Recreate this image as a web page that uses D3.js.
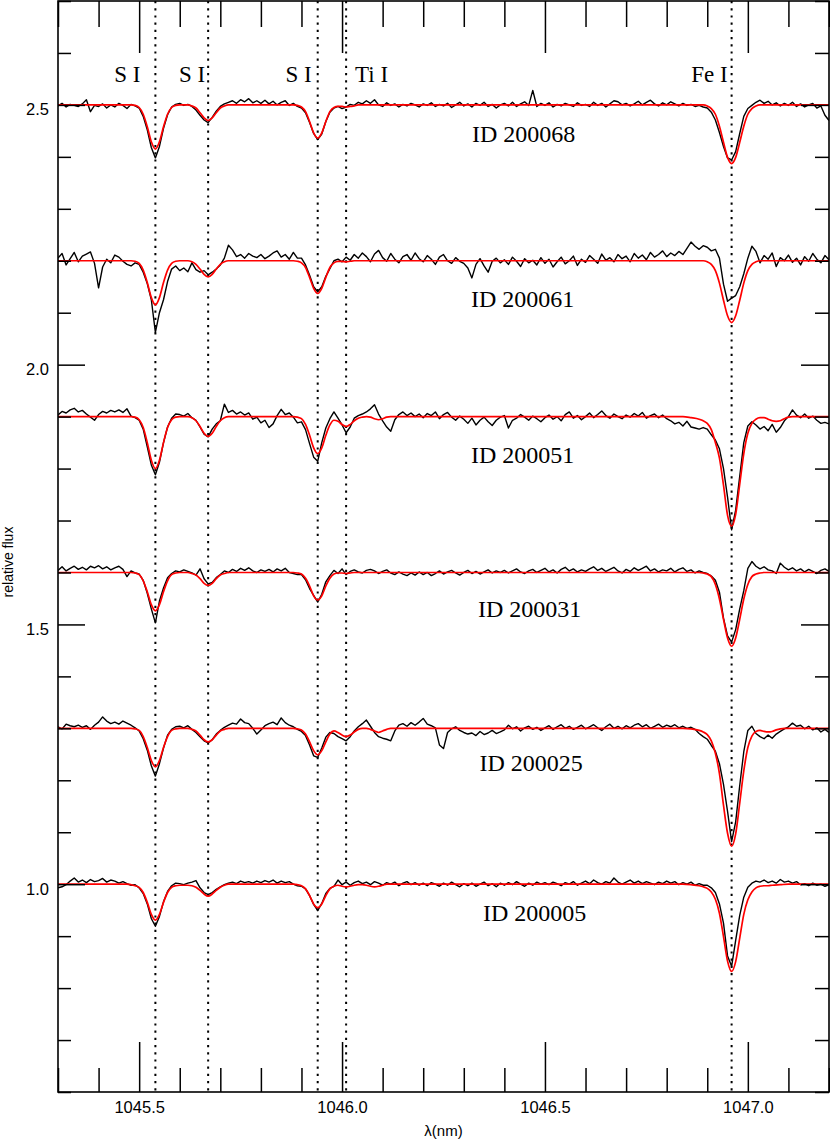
<!DOCTYPE html>
<html><head><meta charset="utf-8">
<script src="https://cdn.jsdelivr.net/npm/d3@7"></script>
<style>body{margin:0;background:#fff}</style>
</head><body><svg id="c" width="830" height="1141"></svg>
<script>
// ---------- data ----------
const waveStart = 1045.30, waveStep = 0.01, waveCount = 191; // sampling grid of the observed spectra (nm)

const spectrumIds = ["ID 200068", "ID 200061", "ID 200051", "ID 200031", "ID 200025", "ID 200005"];
const continuumLevels = [2.5, 2.2, 1.9, 1.6, 1.3, 1.0];

const lineWaves = [1045.54, 1045.67, 1045.94, 1046.01, 1046.96];
const lineNames = ["S I", "S I", "S I", "Ti I", "Fe I"];

const xMajorTicks = [1045.5, 1046.0, 1046.5, 1047.0];
const yMajorTicks = [1.0, 1.5, 2.0, 2.5];

const obs200068 = [
2.498,2.503,2.496,2.501,2.499,2.497,2.502,2.510,2.487,2.499,
2.497,2.502,2.494,2.500,2.496,2.503,2.499,2.493,2.501,2.498,
2.494,2.478,2.452,2.418,2.398,2.420,2.455,2.481,2.496,2.501,
2.503,2.499,2.501,2.497,2.490,2.480,2.471,2.466,2.476,2.488,
2.497,2.502,2.505,2.508,2.503,2.510,2.506,2.512,2.504,2.508,
2.503,2.509,2.502,2.507,2.500,2.505,2.508,2.499,2.503,2.497,
2.494,2.485,2.466,2.445,2.433,2.444,2.468,2.486,2.494,2.497,
2.493,2.496,2.501,2.499,2.505,2.502,2.508,2.503,2.510,2.500,
2.497,2.504,2.499,2.502,2.496,2.501,2.498,2.503,2.500,2.496,
2.502,2.499,2.504,2.497,2.501,2.498,2.503,2.495,2.500,2.505,
2.498,2.502,2.496,2.503,2.499,2.505,2.497,2.501,2.494,2.500,
2.503,2.498,2.505,2.497,2.502,2.506,2.499,2.528,2.497,2.503,
2.499,2.504,2.496,2.501,2.498,2.503,2.500,2.497,2.504,2.499,
2.501,2.497,2.505,2.499,2.503,2.496,2.502,2.508,2.506,2.500,
2.503,2.498,2.502,2.507,2.500,2.505,2.509,2.502,2.498,2.504,
2.500,2.506,2.502,2.498,2.503,2.499,2.501,2.497,2.499,2.496,
2.494,2.486,2.471,2.447,2.420,2.398,2.394,2.410,2.445,2.478,
2.493,2.499,2.505,2.509,2.503,2.507,2.500,2.504,2.498,2.503,
2.499,2.505,2.497,2.502,2.496,2.500,2.503,2.494,2.498,2.480,
2.470];

const obs200061 = [
2.205,2.214,2.192,2.204,2.216,2.198,2.209,2.213,2.217,2.195,
2.148,2.188,2.203,2.196,2.211,2.207,2.199,2.193,2.190,2.196,
2.193,2.178,2.156,2.125,2.062,2.100,2.125,2.160,2.184,2.190,
2.181,2.186,2.179,2.196,2.183,2.178,2.181,2.173,2.178,2.184,
2.192,2.205,2.230,2.221,2.208,2.212,2.205,2.214,2.209,2.206,
2.212,2.204,2.209,2.215,2.219,2.207,2.212,2.203,2.216,2.205,
2.205,2.192,2.172,2.150,2.140,2.150,2.170,2.185,2.200,2.203,
2.198,2.207,2.201,2.212,2.205,2.215,2.208,2.198,2.213,2.220,
2.206,2.199,2.214,2.203,2.196,2.208,2.212,2.201,2.215,2.204,
2.198,2.210,2.203,2.193,2.207,2.212,2.200,2.195,2.206,2.199,
2.195,2.186,2.167,2.193,2.204,2.190,2.178,2.199,2.205,2.196,
2.202,2.193,2.207,2.199,2.189,2.204,2.196,2.201,2.192,2.206,
2.195,2.203,2.188,2.198,2.207,2.194,2.200,2.209,2.191,2.203,
2.197,2.210,2.203,2.195,2.213,2.201,2.206,2.198,2.212,2.204,
2.209,2.198,2.214,2.205,2.211,2.202,2.216,2.207,2.212,2.219,
2.208,2.215,2.210,2.218,2.212,2.224,2.236,2.228,2.222,2.229,
2.226,2.219,2.222,2.205,2.155,2.122,2.128,2.133,2.150,2.175,
2.205,2.228,2.218,2.196,2.210,2.203,2.215,2.189,2.206,2.200,
2.211,2.197,2.205,2.192,2.208,2.199,2.214,2.203,2.196,2.210,
2.202];

const obs200051 = [
1.903,1.910,1.907,1.913,1.916,1.909,1.912,1.905,1.899,1.893,
1.904,1.910,1.907,1.912,1.909,1.913,1.908,1.915,1.901,1.898,
1.893,1.876,1.842,1.807,1.788,1.812,1.850,1.880,1.897,1.905,
1.904,1.901,1.906,1.898,1.893,1.880,1.866,1.861,1.876,1.886,
1.892,1.924,1.908,1.912,1.905,1.909,1.903,1.907,1.895,1.899,
1.888,1.893,1.879,1.886,1.902,1.914,1.904,1.907,1.899,1.888,
1.890,1.875,1.848,1.822,1.814,1.850,1.878,1.896,1.909,1.897,
1.884,1.869,1.880,1.897,1.902,1.905,1.909,1.915,1.923,1.905,
1.892,1.880,1.872,1.894,1.904,1.909,1.902,1.907,1.900,1.905,
1.898,1.906,1.902,1.909,1.896,1.904,1.908,1.899,1.893,1.901,
1.895,1.887,1.897,1.884,1.893,1.899,1.890,1.883,1.893,1.899,
1.902,1.878,1.893,1.897,1.904,1.899,1.893,1.901,1.896,1.890,
1.898,1.903,1.895,1.900,1.892,1.904,1.909,1.897,1.902,1.894,
1.900,1.907,1.898,1.904,1.911,1.902,1.897,1.905,1.900,1.896,
1.903,1.899,1.906,1.901,1.908,1.897,1.902,1.905,1.898,1.903,
1.896,1.892,1.886,1.889,1.882,1.891,1.880,1.878,1.876,1.879,
1.876,1.865,1.855,1.838,1.800,1.745,1.682,1.720,1.785,1.850,
1.882,1.890,1.884,1.876,1.881,1.873,1.885,1.870,1.879,1.892,
1.900,1.913,1.903,1.898,1.905,1.897,1.901,1.893,1.887,1.889,
1.886];

const obs200031 = [
1.604,1.611,1.603,1.608,1.612,1.606,1.610,1.605,1.612,1.609,
1.613,1.607,1.611,1.605,1.609,1.612,1.606,1.592,1.603,1.599,
1.597,1.585,1.560,1.530,1.503,1.545,1.570,1.590,1.598,1.603,
1.601,1.605,1.602,1.599,1.595,1.607,1.588,1.578,1.581,1.590,
1.596,1.603,1.600,1.606,1.602,1.608,1.604,1.609,1.603,1.600,
1.605,1.602,1.606,1.601,1.607,1.603,1.608,1.600,1.598,1.596,
1.596,1.586,1.569,1.556,1.543,1.558,1.582,1.594,1.604,1.598,
1.607,1.596,1.602,1.605,1.601,1.599,1.604,1.606,1.603,1.598,
1.602,1.605,1.599,1.596,1.601,1.597,1.594,1.599,1.595,1.601,
1.596,1.600,1.594,1.598,1.603,1.597,1.601,1.604,1.599,1.595,
1.600,1.604,1.598,1.602,1.597,1.601,1.605,1.599,1.603,1.600,
1.604,1.599,1.603,1.607,1.601,1.598,1.603,1.606,1.600,1.604,
1.608,1.601,1.605,1.599,1.606,1.610,1.603,1.607,1.601,1.605,
1.602,1.607,1.611,1.604,1.608,1.602,1.606,1.610,1.603,1.599,
1.606,1.602,1.609,1.604,1.608,1.612,1.603,1.607,1.601,1.605,
1.603,1.608,1.601,1.606,1.609,1.602,1.605,1.599,1.603,1.600,
1.598,1.593,1.585,1.562,1.512,1.478,1.466,1.490,1.530,1.565,
1.608,1.621,1.612,1.607,1.611,1.605,1.603,1.598,1.618,1.610,
1.605,1.609,1.603,1.607,1.601,1.606,1.602,1.598,1.604,1.607,
1.602];

const obs200025 = [
1.303,1.299,1.308,1.305,1.303,1.306,1.302,1.305,1.298,1.306,
1.312,1.322,1.314,1.309,1.312,1.308,1.314,1.310,1.306,1.301,
1.295,1.280,1.258,1.228,1.208,1.232,1.262,1.287,1.298,1.303,
1.304,1.301,1.305,1.298,1.292,1.284,1.276,1.272,1.278,1.289,
1.296,1.302,1.306,1.310,1.308,1.318,1.311,1.309,1.300,1.289,
1.297,1.305,1.309,1.312,1.307,1.320,1.311,1.306,1.303,1.298,
1.294,1.286,1.268,1.247,1.244,1.262,1.283,1.292,1.290,1.284,
1.280,1.276,1.284,1.295,1.303,1.309,1.316,1.304,1.292,1.284,
1.281,1.279,1.276,1.295,1.306,1.309,1.304,1.311,1.306,1.312,
1.319,1.308,1.305,1.301,1.268,1.261,1.292,1.299,1.303,1.296,
1.292,1.289,1.291,1.286,1.294,1.288,1.291,1.296,1.290,1.293,
1.297,1.306,1.299,1.303,1.295,1.301,1.304,1.298,1.302,1.296,
1.301,1.305,1.298,1.303,1.307,1.300,1.304,1.298,1.302,1.306,
1.299,1.303,1.307,1.301,1.296,1.303,1.308,1.300,1.304,1.299,
1.305,1.301,1.306,1.309,1.303,1.307,1.300,1.304,1.308,1.302,
1.306,1.303,1.307,1.301,1.304,1.300,1.302,1.298,1.290,1.284,
1.279,1.267,1.256,1.232,1.192,1.140,1.082,1.120,1.190,1.255,
1.296,1.304,1.290,1.284,1.280,1.287,1.281,1.289,1.294,1.299,
1.303,1.310,1.304,1.306,1.299,1.304,1.297,1.301,1.293,1.298,
1.292];

const obs200005 = [
0.993,0.995,0.999,1.006,1.012,1.004,1.008,1.003,1.009,1.005,
1.007,1.011,1.004,1.008,1.006,1.002,1.005,1.001,0.998,0.999,
0.993,0.982,0.962,0.934,0.919,0.938,0.966,0.986,0.997,1.002,
1.001,0.999,1.002,1.004,1.007,0.993,0.984,0.980,0.984,0.990,
0.995,0.999,1.002,1.004,1.001,1.006,1.003,1.005,1.002,1.006,
1.003,1.007,1.004,1.008,1.002,1.006,1.003,1.005,1.000,0.997,
0.996,0.991,0.978,0.961,0.949,0.963,0.982,0.992,0.996,1.008,
0.999,1.004,0.998,1.003,1.006,1.001,1.004,0.999,1.005,1.002,
0.998,1.003,1.000,1.004,0.997,1.002,1.005,0.999,1.003,0.998,
1.002,0.997,1.003,1.000,0.996,1.002,0.998,1.004,0.999,0.995,
1.001,0.997,1.002,0.996,1.000,1.004,0.997,1.001,0.995,1.002,
0.998,1.003,0.999,1.005,1.000,0.996,1.002,0.998,1.004,1.000,
1.003,0.999,1.004,1.001,0.997,1.003,1.000,1.005,0.998,1.002,
1.006,1.001,1.008,1.003,1.000,1.005,1.002,1.012,1.004,1.000,
1.004,1.008,1.002,1.006,1.001,1.005,1.002,0.999,1.004,1.001,
1.006,1.002,1.005,0.999,1.003,1.000,1.004,0.998,1.001,0.998,
0.998,0.993,0.984,0.962,0.925,0.862,0.842,0.892,0.940,0.975,
0.994,1.002,1.006,1.004,1.008,1.003,1.006,1.002,1.009,1.004,
1.006,1.002,1.005,0.999,1.001,0.997,1.002,0.998,1.000,0.996,
0.999];

const model200068 = [[1045.30,2.500],[1045.48,2.500],[1045.49,2.499],[1045.50,2.495],[1045.51,2.482],[1045.52,2.458],[1045.53,2.429],[1045.54,2.415],[1045.55,2.429],[1045.56,2.458],[1045.57,2.482],[1045.58,2.495],[1045.59,2.499],[1045.60,2.500],[1045.62,2.500],[1045.63,2.498],[1045.64,2.494],[1045.65,2.485],[1045.66,2.475],[1045.67,2.470],[1045.68,2.475],[1045.69,2.485],[1045.70,2.494],[1045.71,2.498],[1045.72,2.500],[1045.88,2.500],[1045.89,2.499],[1045.90,2.496],[1045.91,2.487],[1045.92,2.468],[1045.93,2.446],[1045.94,2.436],[1045.95,2.446],[1045.96,2.468],[1045.97,2.487],[1045.98,2.495],[1045.99,2.497],[1046.00,2.497],[1046.01,2.496],[1046.02,2.497],[1046.03,2.498],[1046.04,2.500],[1046.89,2.500],[1046.90,2.498],[1046.91,2.493],[1046.92,2.482],[1046.93,2.459],[1046.94,2.428],[1046.95,2.399],[1046.96,2.387],[1046.97,2.399],[1046.98,2.428],[1046.99,2.459],[1047.00,2.482],[1047.01,2.493],[1047.02,2.498],[1047.03,2.500],[1047.20,2.500]];

const model200061 = [[1045.30,2.200],[1045.48,2.200],[1045.49,2.199],[1045.50,2.195],[1045.51,2.182],[1045.52,2.158],[1045.53,2.129],[1045.54,2.115],[1045.55,2.129],[1045.56,2.158],[1045.57,2.182],[1045.58,2.195],[1045.59,2.199],[1045.60,2.200],[1045.62,2.200],[1045.63,2.198],[1045.64,2.193],[1045.65,2.184],[1045.66,2.174],[1045.67,2.169],[1045.68,2.174],[1045.69,2.184],[1045.70,2.193],[1045.71,2.198],[1045.72,2.200],[1045.88,2.200],[1045.89,2.199],[1045.90,2.196],[1045.91,2.187],[1045.92,2.168],[1045.93,2.147],[1045.94,2.137],[1045.95,2.147],[1045.96,2.168],[1045.97,2.187],[1045.98,2.196],[1045.99,2.199],[1046.00,2.199],[1046.01,2.198],[1046.02,2.199],[1046.03,2.200],[1046.89,2.200],[1046.90,2.198],[1046.91,2.193],[1046.92,2.181],[1046.93,2.157],[1046.94,2.124],[1046.95,2.094],[1046.96,2.081],[1046.97,2.094],[1046.98,2.124],[1046.99,2.157],[1047.00,2.181],[1047.01,2.193],[1047.02,2.198],[1047.03,2.200],[1047.20,2.200]];

const model200051 = [[1045.30,1.900],[1045.48,1.900],[1045.49,1.899],[1045.50,1.894],[1045.51,1.879],[1045.52,1.850],[1045.53,1.816],[1045.54,1.800],[1045.55,1.816],[1045.56,1.850],[1045.57,1.879],[1045.58,1.894],[1045.59,1.899],[1045.60,1.900],[1045.62,1.900],[1045.63,1.898],[1045.64,1.892],[1045.65,1.881],[1045.66,1.868],[1045.67,1.862],[1045.68,1.868],[1045.69,1.881],[1045.70,1.892],[1045.71,1.898],[1045.72,1.900],[1045.88,1.900],[1045.89,1.899],[1045.90,1.896],[1045.91,1.885],[1045.92,1.864],[1045.93,1.840],[1045.94,1.829],[1045.95,1.840],[1045.96,1.864],[1045.97,1.884],[1045.98,1.893],[1045.99,1.891],[1046.00,1.885],[1046.01,1.881],[1046.02,1.885],[1046.03,1.892],[1046.04,1.897],[1046.05,1.899],[1046.06,1.900],[1046.07,1.899],[1046.08,1.896],[1046.09,1.894],[1046.10,1.896],[1046.11,1.899],[1046.12,1.900],[1046.84,1.900],[1046.86,1.898],[1046.88,1.895],[1046.89,1.892],[1046.90,1.887],[1046.91,1.875],[1046.92,1.850],[1046.93,1.820],[1046.94,1.768],[1046.95,1.710],[1046.96,1.689],[1046.97,1.712],[1046.98,1.770],[1046.99,1.829],[1047.00,1.868],[1047.01,1.887],[1047.02,1.895],[1047.03,1.898],[1047.04,1.898],[1047.05,1.895],[1047.06,1.892],[1047.07,1.891],[1047.08,1.892],[1047.09,1.896],[1047.10,1.899],[1047.11,1.900],[1047.20,1.900]];

const model200031 = [[1045.30,1.600],[1045.48,1.600],[1045.49,1.599],[1045.50,1.596],[1045.51,1.584],[1045.52,1.563],[1045.53,1.538],[1045.54,1.526],[1045.55,1.538],[1045.56,1.563],[1045.57,1.584],[1045.58,1.596],[1045.59,1.599],[1045.60,1.600],[1045.62,1.600],[1045.63,1.598],[1045.64,1.595],[1045.65,1.588],[1045.66,1.579],[1045.67,1.575],[1045.68,1.579],[1045.69,1.588],[1045.70,1.595],[1045.71,1.598],[1045.72,1.600],[1045.88,1.600],[1045.89,1.599],[1045.90,1.597],[1045.91,1.589],[1045.92,1.574],[1045.93,1.555],[1045.94,1.547],[1045.95,1.555],[1045.96,1.574],[1045.97,1.589],[1045.98,1.597],[1045.99,1.599],[1046.00,1.599],[1046.01,1.598],[1046.02,1.599],[1046.03,1.600],[1046.88,1.600],[1046.89,1.599],[1046.90,1.597],[1046.91,1.592],[1046.92,1.577],[1046.93,1.549],[1046.94,1.510],[1046.95,1.474],[1046.96,1.458],[1046.97,1.474],[1046.98,1.510],[1046.99,1.549],[1047.00,1.577],[1047.01,1.592],[1047.02,1.597],[1047.03,1.599],[1047.04,1.600],[1047.20,1.600]];

const model200025 = [[1045.30,1.300],[1045.48,1.300],[1045.49,1.299],[1045.50,1.296],[1045.51,1.284],[1045.52,1.263],[1045.53,1.238],[1045.54,1.226],[1045.55,1.238],[1045.56,1.263],[1045.57,1.284],[1045.58,1.296],[1045.59,1.299],[1045.60,1.300],[1045.62,1.300],[1045.63,1.298],[1045.64,1.295],[1045.65,1.287],[1045.66,1.278],[1045.67,1.274],[1045.68,1.278],[1045.69,1.287],[1045.70,1.295],[1045.71,1.298],[1045.72,1.300],[1045.88,1.300],[1045.89,1.299],[1045.90,1.297],[1045.91,1.289],[1045.92,1.274],[1045.93,1.257],[1045.94,1.249],[1045.95,1.257],[1045.96,1.274],[1045.97,1.289],[1045.98,1.295],[1045.99,1.292],[1046.00,1.287],[1046.01,1.284],[1046.02,1.287],[1046.03,1.293],[1046.04,1.298],[1046.05,1.300],[1046.06,1.300],[1046.07,1.298],[1046.08,1.295],[1046.09,1.292],[1046.10,1.295],[1046.11,1.298],[1046.12,1.300],[1046.84,1.300],[1046.86,1.299],[1046.88,1.296],[1046.89,1.293],[1046.90,1.288],[1046.91,1.276],[1046.92,1.252],[1046.93,1.213],[1046.94,1.152],[1046.95,1.098],[1046.96,1.073],[1046.97,1.097],[1046.98,1.156],[1046.99,1.218],[1047.00,1.263],[1047.01,1.285],[1047.02,1.294],[1047.03,1.296],[1047.04,1.294],[1047.05,1.293],[1047.06,1.294],[1047.07,1.297],[1047.08,1.299],[1047.09,1.300],[1047.20,1.300]];

const model200005 = [[1045.30,1.000],[1045.47,1.000],[1045.48,0.999],[1045.49,0.997],[1045.50,0.994],[1045.51,0.984],[1045.52,0.965],[1045.53,0.942],[1045.54,0.931],[1045.55,0.942],[1045.56,0.965],[1045.57,0.984],[1045.58,0.994],[1045.59,0.997],[1045.60,0.998],[1045.62,0.998],[1045.63,0.997],[1045.64,0.994],[1045.65,0.988],[1045.66,0.981],[1045.67,0.977],[1045.68,0.981],[1045.69,0.988],[1045.70,0.994],[1045.71,0.998],[1045.72,1.000],[1045.88,1.000],[1045.89,0.999],[1045.90,0.997],[1045.91,0.991],[1045.92,0.978],[1045.93,0.962],[1045.94,0.955],[1045.95,0.962],[1045.96,0.978],[1045.97,0.991],[1045.98,0.996],[1045.99,0.998],[1046.00,0.996],[1046.01,0.995],[1046.02,0.996],[1046.03,0.998],[1046.04,0.999],[1046.05,0.999],[1046.06,0.998],[1046.07,0.996],[1046.08,0.995],[1046.09,0.996],[1046.10,0.998],[1046.11,1.000],[1046.84,1.000],[1046.86,0.999],[1046.88,0.997],[1046.89,0.995],[1046.90,0.992],[1046.91,0.985],[1046.92,0.971],[1046.93,0.944],[1046.94,0.899],[1046.95,0.852],[1046.96,0.832],[1046.97,0.851],[1046.98,0.896],[1046.99,0.942],[1047.00,0.970],[1047.01,0.985],[1047.02,0.993],[1047.03,0.996],[1047.04,0.997],[1047.05,0.997],[1047.06,0.998],[1047.08,0.999],[1047.10,1.000],[1047.20,1.000]];

const observed = [obs200068, obs200061, obs200051, obs200031, obs200025, obs200005];
const models = [model200068, model200061, model200051, model200031, model200025, model200005];

// ---------- layout ----------
const L = 58, R = 829, T = 1, B = 1092;
const svg = d3.select("#c");

const x = d3.scaleLinear().domain([1045.3, 1047.2]).range([L, R]);
const y = d3.scaleLinear().domain([0.6, 2.7]).range([B, T]);

const waves = d3.range(waveCount).map(i => +(waveStart + i * waveStep).toFixed(2));

const plot = svg.append("g");
svg.append("clipPath").attr("id", "clp").append("rect")
  .attr("x", L).attr("y", T).attr("width", R - L).attr("height", B - T);

// dotted line markers
plot.append("g").selectAll("line").data(lineWaves).join("line")
  .attr("x1", d => x(d)).attr("x2", d => x(d))
  .attr("y1", T).attr("y2", B)
  .attr("stroke", "#000").attr("stroke-width", 2)
  .attr("stroke-dasharray", "2.2,5");

// spectra
const obsLine = d3.line().x((d, i) => x(waves[i])).y(d => y(d));
const modLine = d3.line().x(d => x(d[0])).y(d => y(d[1])).curve(d3.curveMonotoneX);

const specG = plot.append("g").attr("clip-path", "url(#clp)");
observed.forEach(s => {
  specG.append("path").attr("d", obsLine(s)).attr("fill", "none")
    .attr("stroke", "#000").attr("stroke-width", 1.4).attr("stroke-linejoin", "round");
});
models.forEach(m => {
  specG.append("path").attr("d", modLine(m)).attr("fill", "none")
    .attr("stroke", "#ff0000").attr("stroke-width", 1.7);
});

// axes
const xMinor = x.ticks(19).filter(t => !xMajorTicks.some(m => Math.abs(m - t) < 1e-6));
const yMinor = y.ticks(21).filter(t => !yMajorTicks.some(m => Math.abs(m - t) < 1e-6));

function styleAxis(g) {
  g.select(".domain").remove();
  g.selectAll(".tick line").attr("stroke", "#000").attr("stroke-width", 1.5);
}
svg.append("g").attr("transform", `translate(0,${B})`)
  .call(d3.axisBottom(x).tickValues(xMinor).tickSize(-24).tickFormat("")).call(styleAxis);
const xb = svg.append("g").attr("transform", `translate(0,${B})`)
  .call(d3.axisBottom(x).tickValues(xMajorTicks).tickSize(-50).tickFormat(d3.format(".1f"))).call(styleAxis);
xb.selectAll(".tick text").attr("y", 21).attr("dy", null)
  .attr("font-family", "'Liberation Sans', Arial, sans-serif").attr("font-size", 16.5).attr("fill", "#000");

svg.append("g").attr("transform", `translate(0,${T})`)
  .call(d3.axisTop(x).tickValues(xMinor).tickSize(-26).tickFormat("")).call(styleAxis);
svg.append("g").attr("transform", `translate(0,${T})`)
  .call(d3.axisTop(x).tickValues(xMajorTicks).tickSize(-52).tickFormat("")).call(styleAxis);

svg.append("g").attr("transform", `translate(${L},0)`)
  .call(d3.axisLeft(y).tickValues(yMinor).tickSize(-13).tickFormat("")).call(styleAxis);
const yl = svg.append("g").attr("transform", `translate(${L},0)`)
  .call(d3.axisLeft(y).tickValues(yMajorTicks).tickSize(-27).tickFormat(d3.format(".1f"))).call(styleAxis);
yl.selectAll(".tick text").attr("x", -9).attr("dy", null).attr("y", 10)
  .attr("font-family", "'Liberation Sans', Arial, sans-serif").attr("font-size", 16.5).attr("fill", "#000");

svg.append("g").attr("transform", `translate(${R},0)`)
  .call(d3.axisRight(y).tickValues(yMinor).tickSize(-14).tickFormat("")).call(styleAxis);
svg.append("g").attr("transform", `translate(${R},0)`)
  .call(d3.axisRight(y).tickValues(yMajorTicks).tickSize(-28).tickFormat("")).call(styleAxis);

// frame
svg.append("rect").attr("x", L).attr("y", T).attr("width", R - L).attr("height", B - T)
  .attr("fill", "none").attr("stroke", "#000").attr("stroke-width", 1.6);

// line labels
const labelOffsets = [{dx: -15, a: "end"}, {dx: -3, a: "end"}, {dx: -6, a: "end"}, {dx: 9, a: "start"}, {dx: -4, a: "end"}];
svg.append("g").selectAll("text").data(lineNames).join("text")
  .attr("x", (d, i) => x(lineWaves[i]) + labelOffsets[i].dx)
  .attr("y", 82)
  .attr("text-anchor", (d, i) => labelOffsets[i].a)
  .attr("font-family", "'Liberation Serif', 'Times New Roman', serif")
  .attr("font-size", 23).attr("fill", "#000")
  .text(d => d);

// spectrum IDs
const idPos = [{x: 472, dy: 37}, {x: 471, dy: 46}, {x: 471, dy: 46}, {x: 478, dy: 45}, {x: 479.5, dy: 43}, {x: 483, dy: 37}];
svg.append("g").selectAll("text").data(spectrumIds).join("text")
  .attr("x", (d, i) => idPos[i].x)
  .attr("y", (d, i) => y(continuumLevels[i]) + idPos[i].dy)
  .attr("font-family", "'Liberation Serif', 'Times New Roman', serif")
  .attr("font-size", 24).attr("fill", "#000")
  .text(d => d);

// axis titles
svg.append("text").attr("x", (L + R) / 2).attr("y", 1136).attr("text-anchor", "middle")
  .attr("font-family", "'Liberation Sans', Arial, sans-serif").attr("font-size", 15).text("λ(nm)");
svg.append("text").attr("transform", "translate(13,562) rotate(-90)").attr("text-anchor", "middle")
  .attr("font-family", "'Liberation Sans', Arial, sans-serif").attr("font-size", 14).text("relative flux");
</script></body></html>
